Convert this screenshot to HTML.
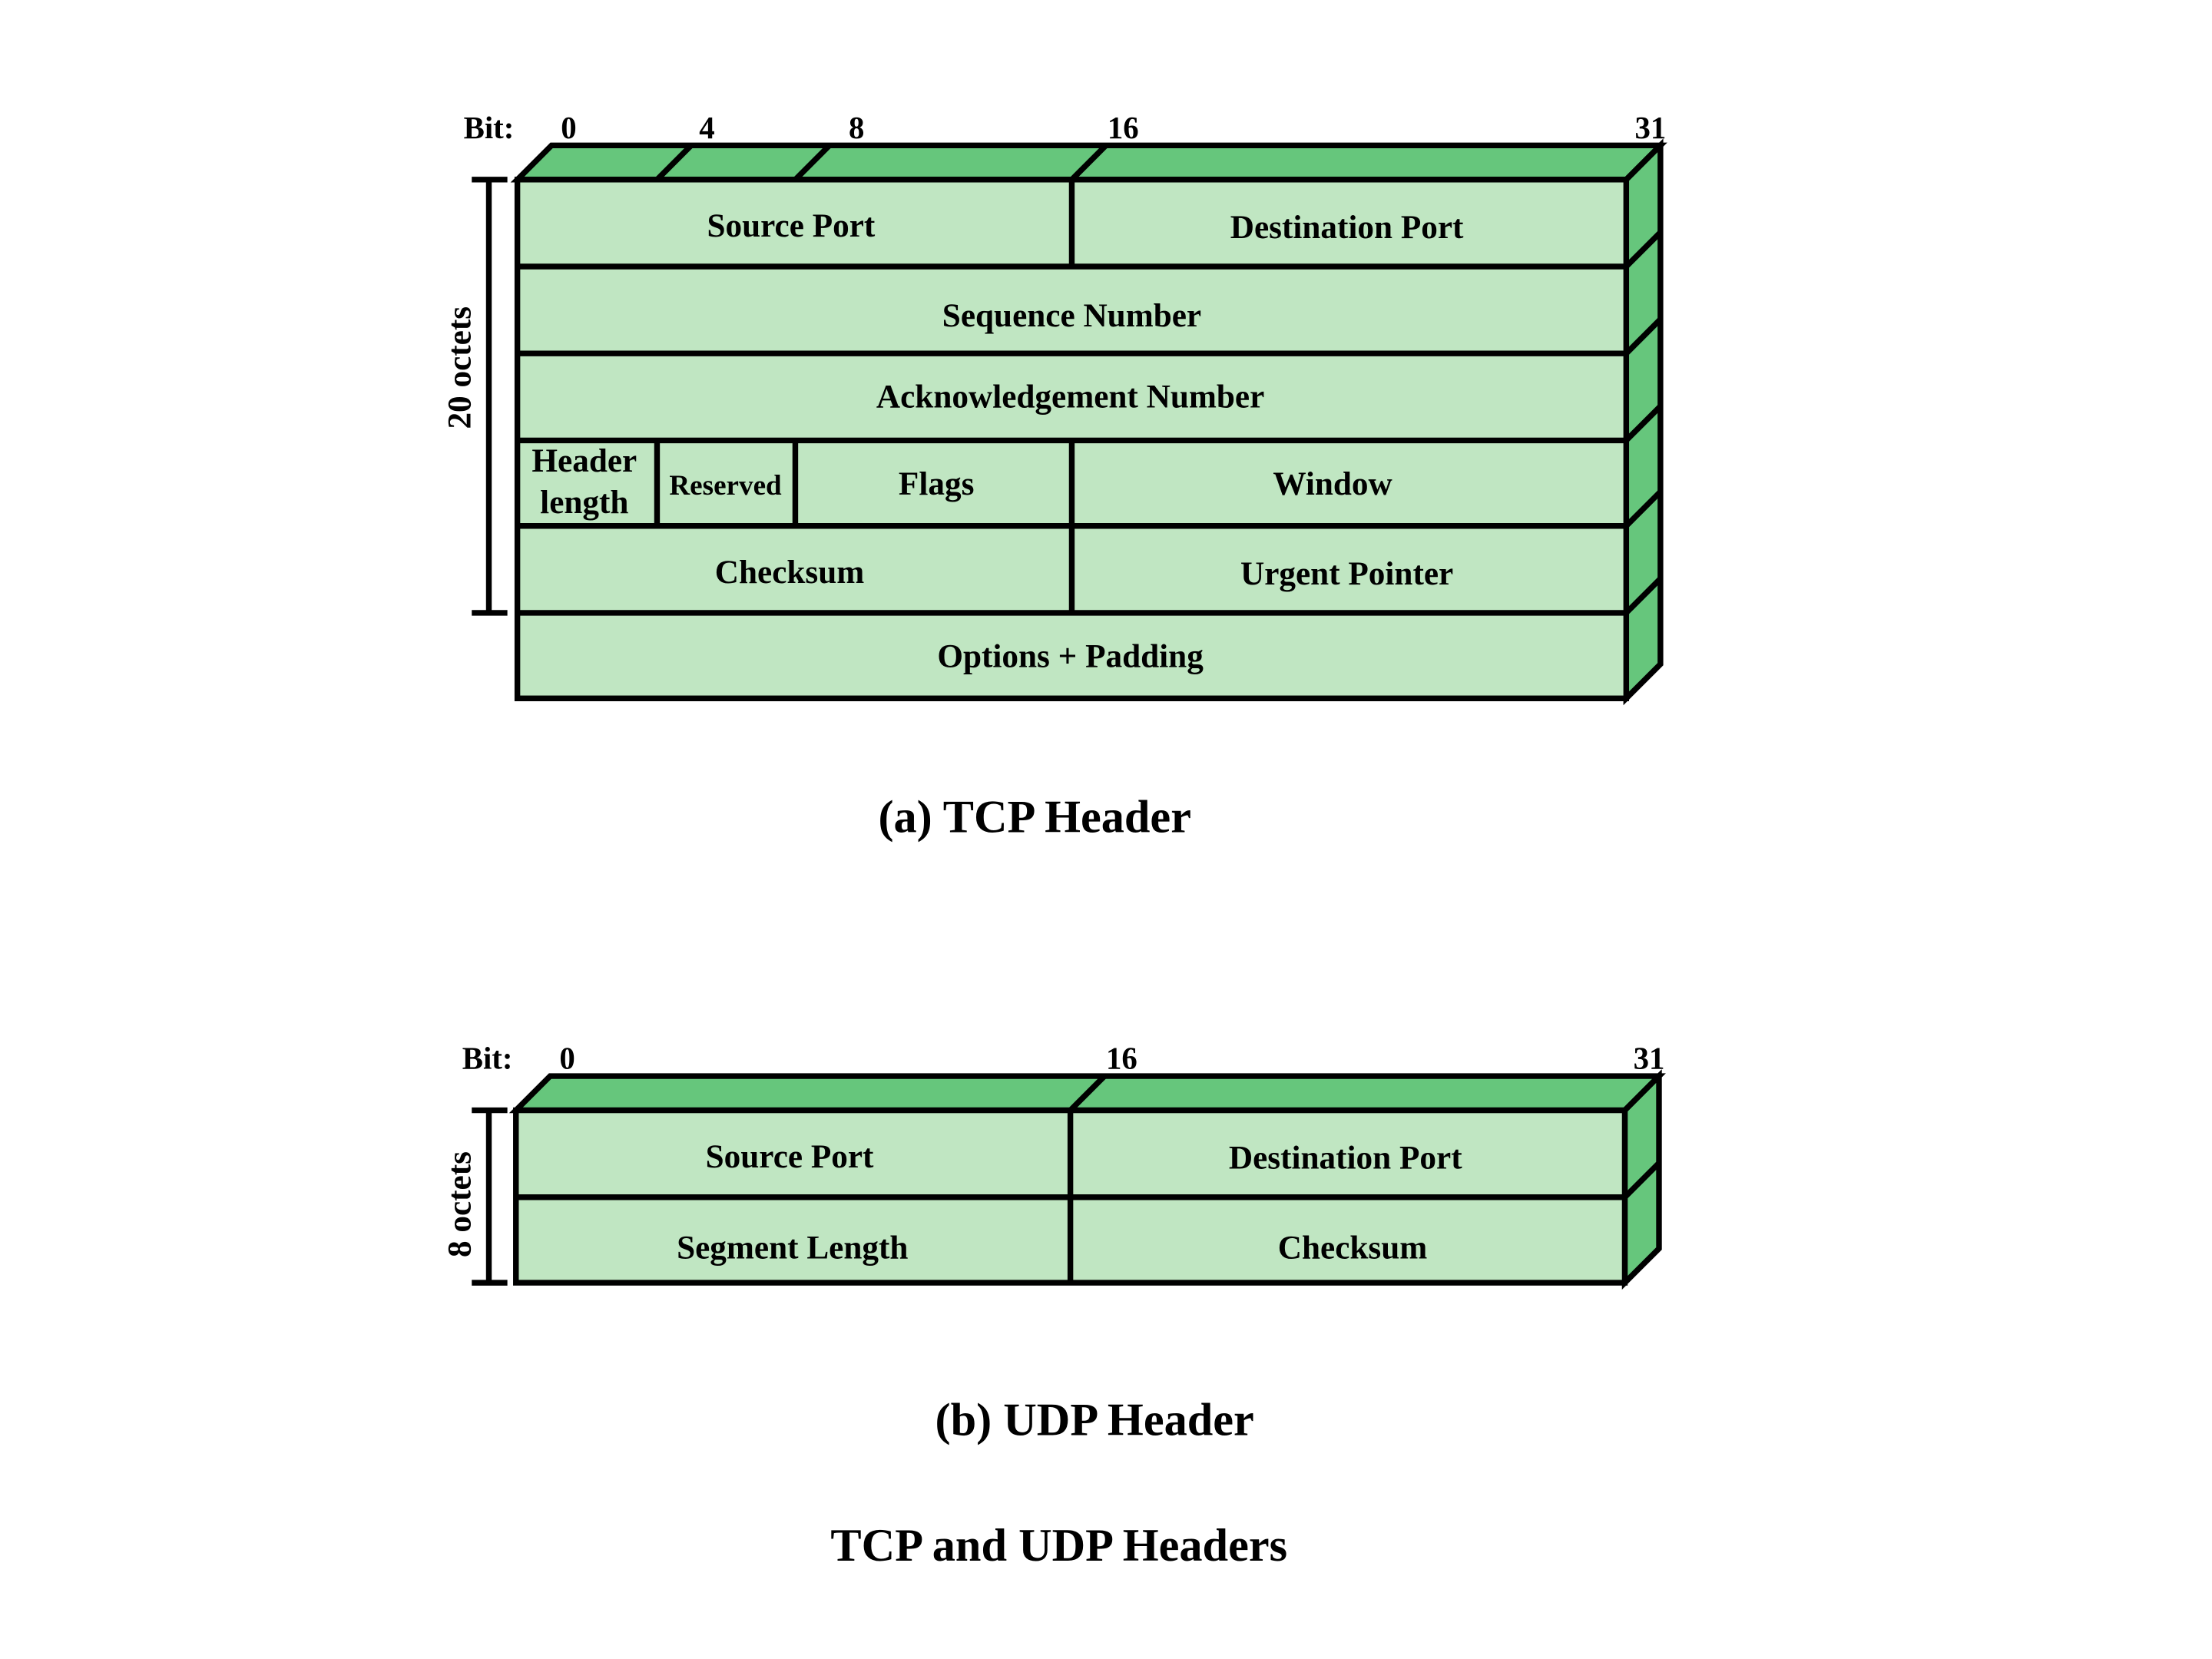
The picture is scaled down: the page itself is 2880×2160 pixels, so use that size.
<!DOCTYPE html>
<html><head><style>html,body{margin:0;padding:0;background:#fff}svg{display:block}</style></head>
<body>
<svg width="2880" height="2160" viewBox="0 0 1552 1164" xmlns="http://www.w3.org/2000/svg" font-family="Liberation Serif, serif" font-weight="bold">
<g stroke="#000" stroke-width="4" stroke-linejoin="miter">
<!-- TCP -->
<polygon points="363,126 387,102 1165,102 1141,126" fill="#66c67c"/>
<polygon points="1141,126 1165,102 1165,466 1141,490" fill="#66c67c"/>
<rect x="363" y="126" width="778" height="364" fill="#c0e6c2"/>
<line x1="461" y1="126" x2="485" y2="102"/>
<line x1="558" y1="126" x2="582" y2="102"/>
<line x1="752" y1="126" x2="776" y2="102"/>
<g>
<line x1="363" y1="187" x2="1141" y2="187"/><line x1="1141" y1="187" x2="1165" y2="163"/>
<line x1="363" y1="248" x2="1141" y2="248"/><line x1="1141" y1="248" x2="1165" y2="224"/>
<line x1="363" y1="309" x2="1141" y2="309"/><line x1="1141" y1="309" x2="1165" y2="285"/>
<line x1="363" y1="369" x2="1141" y2="369"/><line x1="1141" y1="369" x2="1165" y2="345"/>
<line x1="363" y1="430" x2="1141" y2="430"/><line x1="1141" y1="430" x2="1165" y2="406"/>
</g>
<line x1="752" y1="126" x2="752" y2="187"/>
<line x1="461" y1="309" x2="461" y2="369"/>
<line x1="558" y1="309" x2="558" y2="369"/>
<line x1="752" y1="309" x2="752" y2="430"/>
<line x1="343" y1="126" x2="343" y2="430"/>
<line x1="331" y1="126" x2="356" y2="126"/>
<line x1="331" y1="430" x2="356" y2="430"/>
<!-- UDP -->
<polygon points="362,779 386,755 1164,755 1140,779" fill="#66c67c"/>
<polygon points="1140,779 1164,755 1164,876 1140,900" fill="#66c67c"/>
<rect x="362" y="779" width="778" height="121" fill="#c0e6c2"/>
<line x1="751" y1="779" x2="775" y2="755"/>
<line x1="362" y1="840" x2="1140" y2="840"/><line x1="1140" y1="840" x2="1164" y2="816"/>
<line x1="751" y1="779" x2="751" y2="900"/>
<line x1="343" y1="779" x2="343" y2="900"/>
<line x1="331" y1="779" x2="356" y2="779"/>
<line x1="331" y1="900" x2="356" y2="900"/>
</g>
<g font-size="23.3" fill="#000" text-anchor="middle">
<g font-size="22"><text x="343" y="97">Bit:</text>
<text x="399" y="97">0</text><text x="496" y="97">4</text><text x="601" y="97">8</text><text x="788" y="97">16</text><text x="1158" y="97">31</text></g>
<text x="555" y="166">Source Port</text>
<text x="945" y="167">Destination Port</text>
<text x="752" y="229">Sequence Number</text>
<text x="751" y="286">Acknowledgement Number</text>
<text x="410" y="331">Header</text>
<text x="410" y="360">length</text>
<text x="509" y="347" font-size="20">Reserved</text>
<text x="657" y="347">Flags</text>
<text x="935" y="347">Window</text>
<text x="554" y="409">Checksum</text>
<text x="945" y="410">Urgent Pointer</text>
<text x="751" y="468">Options + Padding</text>
<text transform="translate(330,258) rotate(-90)">20 octets</text>
<g font-size="22"><text x="342" y="750">Bit:</text>
<text x="398" y="750">0</text><text x="787" y="750">16</text><text x="1157" y="750">31</text></g>
<text x="554" y="819">Source Port</text>
<text x="944" y="820">Destination Port</text>
<text x="556" y="883">Segment Length</text>
<text x="949" y="883">Checksum</text>
<text transform="translate(330,845) rotate(-90)">8 octets</text>
</g>
<g font-size="32.5" fill="#000" text-anchor="middle">
<text x="726" y="584">(a) TCP Header</text>
<text x="768" y="1007">(b) UDP Header</text>
<text x="743" y="1095">TCP and UDP Headers</text>
</g>
</svg>
</body></html>
